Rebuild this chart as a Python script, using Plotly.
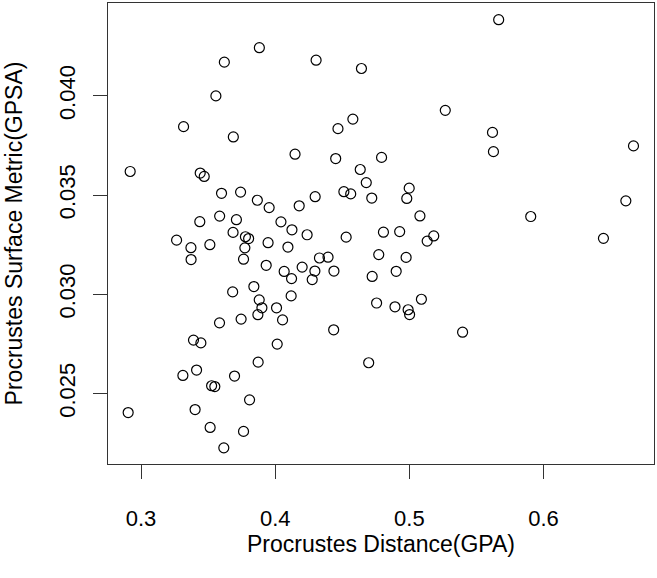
import plotly.graph_objects as go

# Procrustes Distance (GPA)
gpa = [
    0.3882, 0.3621, 0.4305, 0.3558, 0.3317, 0.3688, 0.4148, 0.2919, 0.3441, 0.3471,
    0.3600, 0.3742, 0.3867, 0.3955, 0.4298, 0.4179, 0.3438, 0.3586, 0.3711, 0.4043,
    0.4125, 0.4238, 0.3686, 0.3778, 0.3802, 0.3265, 0.3372, 0.3513, 0.3947, 0.4095,
    0.3373, 0.3774, 0.3764, 0.3933, 0.4067, 0.4122, 0.4201, 0.4330, 0.4394, 0.4296,
    0.4276, 0.4438, 0.4643, 0.5268, 0.4579, 0.4468, 0.4451, 0.4793, 0.4634, 0.4679,
    0.4512, 0.4563, 0.4720, 0.4999, 0.4981, 0.5079, 0.4529, 0.4807, 0.4928, 0.5182,
    0.5133, 0.4772, 0.4976, 0.4723, 0.4902, 0.5666, 0.5620, 0.5627, 0.6671, 0.6614,
    0.5905, 0.6447, 0.3683, 0.3841, 0.3881, 0.3901, 0.3871, 0.4010, 0.4055, 0.4119,
    0.3585, 0.3746, 0.3391, 0.3446, 0.4015, 0.3873, 0.3312, 0.3414, 0.3697, 0.3526,
    0.3550, 0.3809, 0.2904, 0.3403, 0.3515, 0.3764, 0.3617, 0.4756, 0.4893, 0.4991,
    0.5002, 0.5090, 0.4436, 0.5397, 0.4697,
]

# Procrustes Surface Metric (GPSA)
gpsa = [
    0.04243, 0.04170, 0.04180, 0.04000, 0.03845, 0.03793, 0.03706, 0.03619, 0.03611, 0.03594,
    0.03509, 0.03515, 0.03474, 0.03437, 0.03492, 0.03446, 0.03366, 0.03394, 0.03376, 0.03365,
    0.03325, 0.03300, 0.03312, 0.03290, 0.03281, 0.03273, 0.03235, 0.03250, 0.03260, 0.03238,
    0.03175, 0.03234, 0.03177, 0.03146, 0.03115, 0.03079, 0.03137, 0.03183, 0.03187, 0.03117,
    0.03074, 0.03117, 0.04138, 0.03927, 0.03883, 0.03835, 0.03684, 0.03690, 0.03629, 0.03563,
    0.03517, 0.03506, 0.03485, 0.03535, 0.03483, 0.03395, 0.03288, 0.03313, 0.03316, 0.03294,
    0.03268, 0.03200, 0.03186, 0.03090, 0.03116, 0.04384, 0.03816, 0.03719, 0.03748, 0.03471,
    0.03392, 0.03282, 0.03012, 0.03039, 0.02972, 0.02932, 0.02897, 0.02932, 0.02871, 0.02992,
    0.02856, 0.02875, 0.02769, 0.02755, 0.02749, 0.02658, 0.02591, 0.02618, 0.02588, 0.02539,
    0.02535, 0.02468, 0.02404, 0.02419, 0.02329, 0.02309, 0.02226, 0.02956, 0.02937, 0.02922,
    0.02898, 0.02975, 0.02821, 0.02809, 0.02655,
]

x_ticks = [0.3, 0.4, 0.5, 0.6]
x_tick_labels = ["0.3", "0.4", "0.5", "0.6"]
y_ticks = [0.025, 0.030, 0.035, 0.040]
y_tick_labels = ["0.025", "0.030", "0.035", "0.040"]

x_title = "Procrustes Distance(GPA)"
y_title = "Procrustes Surface Metric(GPSA)"

FONT = "Liberation Sans, Arial, sans-serif"

fig = go.Figure(
    go.Scatter(
        x=gpa, y=gpsa, mode="markers",
        marker=dict(symbol="circle-open", size=10, color="black", line=dict(width=1.2)),
        showlegend=False, hoverinfo="x+y",
    )
)

axis_common = dict(
    showgrid=False, zeroline=False, showline=True, mirror=True,
    linecolor="#333333", linewidth=1.3,
    ticks="outside", ticklen=14, tickwidth=1, tickcolor="#333333",
    tickfont=dict(family=FONT, size=22, color="black"),
    title_font=dict(family=FONT, size=23, color="black"),
    automargin=False,
)

fig.update_layout(
    width=657, height=578,
    margin=dict(l=108, r=3, t=3, b=114),
    paper_bgcolor="white", plot_bgcolor="white",
    xaxis=dict(
        range=[0.27537, 0.68239], tickvals=x_ticks, ticktext=x_tick_labels,
        title=dict(text=x_title, standoff=6), ticklabelstandoff=20,
        **axis_common,
    ),
    yaxis=dict(
        range=[0.021446, 0.044682], tickvals=y_ticks, ticktext=y_tick_labels,
        tickangle=-90, title=dict(text=y_title, standoff=25), ticklabelstandoff=9,
        **axis_common,
    ),
)

fig.write_html(
    "out.html",
    config={"displayModeBar": False},
    post_script="document.body.style.margin='0px';document.body.style.overflow='hidden';",
)
